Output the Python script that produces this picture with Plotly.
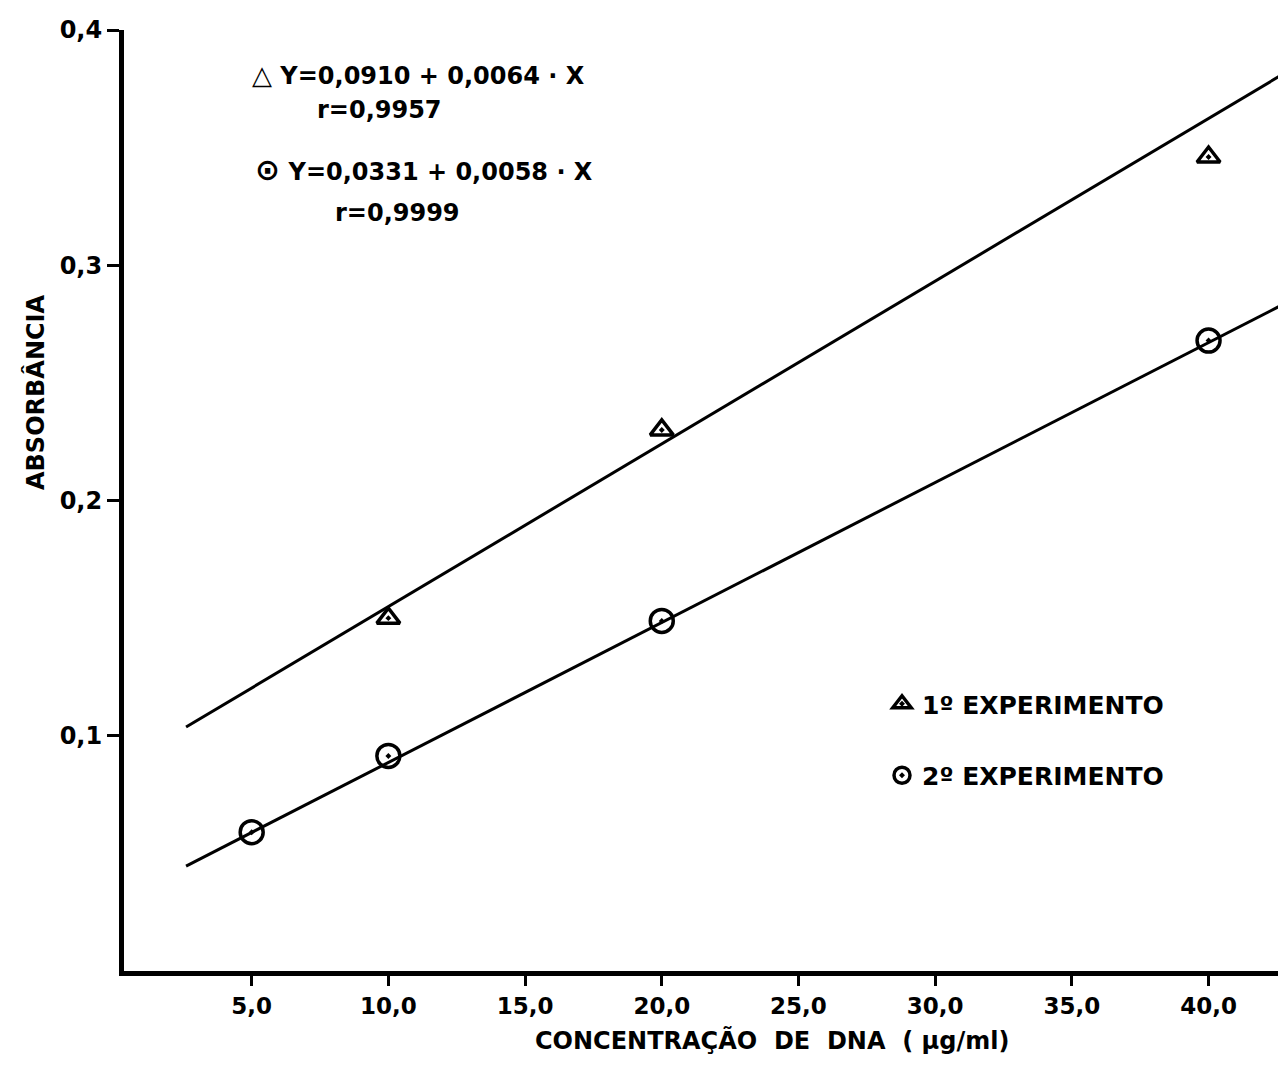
import plotly.graph_objects as go

# Data
exp1_x = [10.0, 20.0, 40.0]
exp1_y = [0.150, 0.230, 0.346]
exp2_x = [5.0, 10.0, 20.0, 40.0]
exp2_y = [0.059, 0.0914, 0.1488, 0.268]

# fitted lines (as drawn)
fit1_x = [2.6, 42.6]
fit1_y = [0.1037, 0.3804]
fit2_x = [2.6, 42.6]
fit2_y = [0.0446, 0.2826]

x_ticks = [5, 10, 15, 20, 25, 30, 35, 40]
x_ticktext = ["5,0", "10,0", "15,0", "20,0", "25,0", "30,0", "35,0", "40,0"]
y_ticks = [0.1, 0.2, 0.3, 0.4]
y_ticktext = ["0,1", "0,2", "0,3", "0,4"]

eq_lines = ["<span style='font-size:26px'>△</span> Y=0,0910 + 0,0064 · X",
            "r=0,9957",
            "<span style='font-size:30px'>⊙</span> Y=0,0331 + 0,0058 · X",
            "r=0,9999"]
x_title = "CONCENTRAÇÃO  DE  DNA  ( µg/ml)"
y_title = "ABSORBÂNCIA"

FONT = "DejaVu Sans"

fig = go.Figure()
fig.add_trace(go.Scatter(x=fit1_x, y=fit1_y, mode="lines", line=dict(color="black", width=3),
                         showlegend=False, hoverinfo="skip"))
fig.add_trace(go.Scatter(x=fit2_x, y=fit2_y, mode="lines", line=dict(color="black", width=3),
                         showlegend=False, hoverinfo="skip"))
fig.add_trace(go.Scatter(x=exp1_x, y=exp1_y, mode="markers", name="1º EXPERIMENTO",
                         legendgroup="a",
                         marker=dict(symbol="triangle-up-open-dot", size=20, color="black",
                                     line=dict(width=3.5, color="black"))))
fig.add_trace(go.Scatter(x=exp2_x, y=exp2_y, mode="markers", name="2º EXPERIMENTO",
                         legendgroup="b",
                         marker=dict(symbol="circle-open-dot", size=23, color="black",
                                     line=dict(width=3.5, color="black"))))

def px2paper(px, py):
    return (px - 124) / 1154, (971 - py) / 941

ann_pos = [(250, 75), (315, 110), (253, 170), (333, 213)]
annotations = []
for txt, (px, py) in zip(eq_lines, ann_pos):
    xp, yp = px2paper(px, py)
    annotations.append(dict(text=txt, x=xp, y=yp, xref="paper", yref="paper",
                            xanchor="left", yanchor="middle", showarrow=False,
                            font=dict(family=FONT, size=24, color="black", weight="bold")))

# axis titles placed as in the reference
xt, yt = px2paper(772, 1040)
annotations.append(dict(text=x_title, x=xt, y=yt, xref="paper", yref="paper",
                        xanchor="center", yanchor="middle", showarrow=False,
                        font=dict(family=FONT, size=24, color="black", weight="bold")))
xt, yt = px2paper(35, 392)
annotations.append(dict(text=y_title, x=xt, y=yt, xref="paper", yref="paper", textangle=-90,
                        xanchor="center", yanchor="middle", showarrow=False,
                        font=dict(family=FONT, size=24, color="black", weight="bold")))

fig.update_layout(
    width=1278, height=1066,
    margin=dict(l=124, r=0, t=30, b=95),
    paper_bgcolor="white", plot_bgcolor="white",
    font=dict(family=FONT, color="black", weight="bold"),
    annotations=annotations,
    showlegend=True,
    legend=dict(x=(882 - 124) / 1154, y=(971 - 681) / 941, xanchor="left", yanchor="top",
                bgcolor="rgba(0,0,0,0)", tracegroupgap=36,
                font=dict(family=FONT, size=25, color="black", weight="bold")),
    xaxis=dict(range=[0.33, 42.54], tickvals=x_ticks, ticktext=x_ticktext,
               showgrid=False, zeroline=False, showline=True, linecolor="black", linewidth=5,
               ticks="outside", ticklen=10, tickwidth=3, tickcolor="black",
               tickfont=dict(family=FONT, size=23, color="black", weight="bold")),
    yaxis=dict(range=[0, 0.4], tickvals=y_ticks, ticktext=y_ticktext,
               showgrid=False, zeroline=False, showline=True, linecolor="black", linewidth=5,
               ticks="outside", ticklen=12, tickwidth=3, tickcolor="black",
               tickfont=dict(family=FONT, size=24, color="black", weight="bold")),
)

fig.write_html("out.html")
